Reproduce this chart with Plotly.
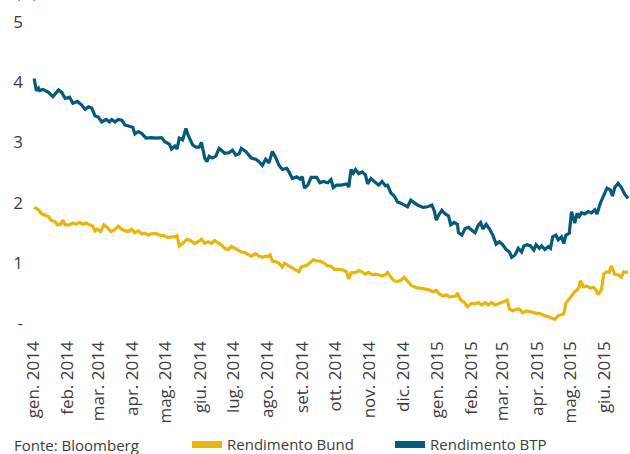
import plotly.graph_objects as go

# ---------------- data ----------------
month_ticks = ["2014-01-01", "2014-02-01", "2014-03-01", "2014-04-01", "2014-05-01", "2014-06-01",
               "2014-07-01", "2014-08-01", "2014-09-01", "2014-10-01", "2014-11-01", "2014-12-01",
               "2015-01-01", "2015-02-01", "2015-03-01", "2015-04-01", "2015-05-01", "2015-06-01"]
month_labels = ["gen. 2014", "feb. 2014", "mar. 2014", "apr. 2014", "mag. 2014", "giu. 2014",
                "lug. 2014", "ago. 2014", "set. 2014", "ott. 2014", "nov. 2014", "dic. 2014",
                "gen. 2015", "feb. 2015", "mar. 2015", "apr. 2015", "mag. 2015", "giu. 2015"]

y_tickvals = [0, 1, 2, 3, 4, 5]
y_ticktext = ["-", "1", "2", "3", "4", "5"]

btp_dates = [
    "2014-01-02", "2014-01-04", "2014-01-06", "2014-01-07", "2014-01-10", "2014-01-15", "2014-01-19", "2014-01-24", "2014-01-27", "2014-01-30",
    "2014-02-03", "2014-02-06", "2014-02-10", "2014-02-14", "2014-02-17", "2014-02-20", "2014-02-23", "2014-02-26",
    "2014-03-01", "2014-03-04", "2014-03-08", "2014-03-11", "2014-03-13", "2014-03-16", "2014-03-19", "2014-03-22", "2014-03-25", "2014-03-29",
    "2014-04-01", "2014-04-03", "2014-04-06", "2014-04-09", "2014-04-13", "2014-04-18", "2014-04-22", "2014-04-27", "2014-04-30",
    "2014-05-04", "2014-05-06", "2014-05-09", "2014-05-11", "2014-05-13", "2014-05-16", "2014-05-19", "2014-05-21", "2014-05-25", "2014-05-28", "2014-05-31",
    "2014-06-02", "2014-06-05", "2014-06-07", "2014-06-09", "2014-06-12", "2014-06-15", "2014-06-18", "2014-06-23", "2014-06-27", "2014-06-30",
    "2014-07-03", "2014-07-06", "2014-07-08", "2014-07-12", "2014-07-17", "2014-07-21", "2014-07-24", "2014-07-27", "2014-07-30",
    "2014-08-02", "2014-08-05", "2014-08-08", "2014-08-11", "2014-08-14", "2014-08-18", "2014-08-20", "2014-08-23", "2014-08-27", "2014-08-30",
    "2014-09-01", "2014-09-03", "2014-09-06", "2014-09-09", "2014-09-14", "2014-09-17", "2014-09-20", "2014-09-24", "2014-09-27", "2014-09-29",
    "2014-10-02", "2014-10-06", "2014-10-11", "2014-10-13", "2014-10-15", "2014-10-17", "2014-10-19", "2014-10-22", "2014-10-25", "2014-10-28", "2014-10-30",
    "2014-11-02", "2014-11-05", "2014-11-09", "2014-11-12", "2014-11-15", "2014-11-17", "2014-11-20", "2014-11-23", "2014-11-26", "2014-11-29",
    "2014-12-02", "2014-12-05", "2014-12-08", "2014-12-11", "2014-12-14", "2014-12-19", "2014-12-23", "2014-12-27", "2014-12-29", "2014-12-31",
    "2015-01-02", "2015-01-05", "2015-01-08", "2015-01-11", "2015-01-13", "2015-01-16", "2015-01-19", "2015-01-20", "2015-01-23", "2015-01-26", "2015-01-29",
    "2015-02-01", "2015-02-04", "2015-02-07", "2015-02-09", "2015-02-11", "2015-02-14", "2015-02-17", "2015-02-20", "2015-02-23", "2015-02-26",
    "2015-03-01", "2015-03-04", "2015-03-07", "2015-03-09", "2015-03-12", "2015-03-15", "2015-03-18", "2015-03-20", "2015-03-23", "2015-03-26", "2015-03-29", "2015-03-31",
    "2015-04-03", "2015-04-05", "2015-04-08", "2015-04-11", "2015-04-13", "2015-04-15", "2015-04-18", "2015-04-20", "2015-04-23", "2015-04-25", "2015-04-27", "2015-04-30",
    "2015-05-02", "2015-05-05", "2015-05-07", "2015-05-09", "2015-05-11", "2015-05-14", "2015-05-17", "2015-05-20", "2015-05-23", "2015-05-25", "2015-05-28", "2015-05-31",
    "2015-06-03", "2015-06-06", "2015-06-08", "2015-06-10", "2015-06-13", "2015-06-16", "2015-06-19", "2015-06-22",
]
btp_values = [
    4.06, 3.86, 3.90, 3.86, 3.88, 3.83, 3.76, 3.87, 3.83, 3.73,
    3.75, 3.65, 3.68, 3.62, 3.55, 3.59, 3.57, 3.44,
    3.42, 3.34, 3.38, 3.34, 3.38, 3.34, 3.38, 3.37, 3.29, 3.26,
    3.25, 3.14, 3.18, 3.15, 3.07, 3.08, 3.07, 3.08, 3.01,
    2.97, 2.89, 2.94, 2.89, 3.07, 3.04, 3.23, 3.12, 2.96, 2.92, 2.92,
    3.00, 2.74, 2.68, 2.77, 2.74, 2.77, 2.90, 2.82, 2.83, 2.87,
    2.79, 2.81, 2.90, 2.85, 2.74, 2.72, 2.68, 2.62, 2.72,
    2.66, 2.85, 2.75, 2.62, 2.55, 2.57, 2.51, 2.40, 2.43, 2.39,
    2.43, 2.24, 2.29, 2.42, 2.42, 2.33, 2.35, 2.33, 2.38, 2.25,
    2.29, 2.29, 2.31, 2.26, 2.55, 2.49, 2.55, 2.48, 2.51, 2.46, 2.31,
    2.40, 2.35, 2.29, 2.35, 2.28, 2.29, 2.16, 2.11, 2.01, 1.99,
    1.96, 1.93, 2.04, 2.00, 1.96, 1.92, 1.93, 1.96, 1.87, 1.71,
    1.79, 1.87, 1.81, 1.78, 1.63, 1.67, 1.64, 1.50, 1.46, 1.57, 1.59,
    1.54, 1.50, 1.63, 1.67, 1.56, 1.64, 1.56, 1.46, 1.31, 1.35,
    1.30, 1.22, 1.18, 1.09, 1.13, 1.24, 1.18, 1.28, 1.30, 1.28, 1.21, 1.30,
    1.24, 1.28, 1.22, 1.27, 1.24, 1.43, 1.46, 1.38, 1.43, 1.32, 1.46, 1.49,
    1.85, 1.66, 1.82, 1.77, 1.83, 1.81, 1.85, 1.83, 1.88, 1.81, 1.99, 2.13,
    2.24, 2.21, 2.11, 2.25, 2.32, 2.25, 2.14, 2.07,
]

bund_dates = [
    "2014-01-02", "2014-01-06", "2014-01-09", "2014-01-12", "2014-01-15", "2014-01-17", "2014-01-21", "2014-01-23", "2014-01-26", "2014-01-28", "2014-01-30",
    "2014-02-03", "2014-02-06", "2014-02-09", "2014-02-12", "2014-02-15", "2014-02-18", "2014-02-21", "2014-02-24", "2014-02-26", "2014-02-28",
    "2014-03-03", "2014-03-06", "2014-03-09", "2014-03-12", "2014-03-15", "2014-03-19", "2014-03-22", "2014-03-25", "2014-03-28", "2014-03-31",
    "2014-04-03", "2014-04-06", "2014-04-09", "2014-04-12", "2014-04-15", "2014-04-18", "2014-04-22", "2014-04-25", "2014-04-29",
    "2014-05-03", "2014-05-06", "2014-05-09", "2014-05-11", "2014-05-13", "2014-05-16", "2014-05-20", "2014-05-23", "2014-05-27", "2014-05-30",
    "2014-06-02", "2014-06-05", "2014-06-08", "2014-06-11", "2014-06-14", "2014-06-17", "2014-06-20", "2014-06-23", "2014-06-26", "2014-06-29",
    "2014-07-02", "2014-07-05", "2014-07-08", "2014-07-11", "2014-07-15", "2014-07-17", "2014-07-21", "2014-07-24", "2014-07-27", "2014-07-30",
    "2014-08-01", "2014-08-03", "2014-08-05", "2014-08-08", "2014-08-11", "2014-08-14", "2014-08-16", "2014-08-20", "2014-08-23", "2014-08-26", "2014-08-29", "2014-08-31",
    "2014-09-02", "2014-09-05", "2014-09-08", "2014-09-11", "2014-09-14", "2014-09-17", "2014-09-21", "2014-09-24", "2014-09-27", "2014-09-30",
    "2014-10-04", "2014-10-08", "2014-10-11", "2014-10-13", "2014-10-15", "2014-10-19", "2014-10-22", "2014-10-25", "2014-10-28", "2014-10-31",
    "2014-11-03", "2014-11-06", "2014-11-09", "2014-11-12", "2014-11-15", "2014-11-17", "2014-11-20", "2014-11-23", "2014-11-26", "2014-11-29",
    "2014-12-02", "2014-12-05", "2014-12-08", "2014-12-11", "2014-12-14", "2014-12-17", "2014-12-20", "2014-12-24", "2014-12-28", "2014-12-31",
    "2015-01-03", "2015-01-06", "2015-01-09", "2015-01-12", "2015-01-15", "2015-01-18", "2015-01-19", "2015-01-22", "2015-01-25", "2015-01-28",
    "2015-02-01", "2015-02-04", "2015-02-07", "2015-02-10", "2015-02-13", "2015-02-16", "2015-02-19", "2015-02-22", "2015-02-25", "2015-02-28",
    "2015-03-03", "2015-03-05", "2015-03-07", "2015-03-10", "2015-03-13", "2015-03-16", "2015-03-19", "2015-03-22", "2015-03-25", "2015-03-28", "2015-03-31",
    "2015-04-03", "2015-04-06", "2015-04-09", "2015-04-12", "2015-04-15", "2015-04-17", "2015-04-20", "2015-04-23", "2015-04-25", "2015-04-27", "2015-04-29",
    "2015-05-02", "2015-05-05", "2015-05-07", "2015-05-09", "2015-05-10", "2015-05-13", "2015-05-16", "2015-05-19", "2015-05-22", "2015-05-24", "2015-05-26", "2015-05-29", "2015-05-31",
    "2015-06-03", "2015-06-05", "2015-06-07", "2015-06-10", "2015-06-13", "2015-06-16", "2015-06-18", "2015-06-20", "2015-06-22",
]
bund_values = [
    1.92, 1.88, 1.81, 1.79, 1.77, 1.71, 1.68, 1.63, 1.64, 1.71, 1.63,
    1.63, 1.66, 1.64, 1.67, 1.64, 1.66, 1.63, 1.61, 1.53, 1.56,
    1.52, 1.63, 1.59, 1.52, 1.54, 1.61, 1.56, 1.53, 1.52, 1.56,
    1.50, 1.53, 1.48, 1.49, 1.46, 1.48, 1.49, 1.46, 1.45,
    1.42, 1.43, 1.43, 1.45, 1.28, 1.32, 1.39, 1.37, 1.32, 1.35,
    1.39, 1.32, 1.35, 1.32, 1.37, 1.33, 1.30, 1.24, 1.22, 1.27,
    1.24, 1.22, 1.18, 1.17, 1.13, 1.11, 1.15, 1.11, 1.09, 1.11,
    1.10, 1.13, 1.03, 1.02, 0.99, 0.93, 0.99, 0.95, 0.91, 0.88, 0.85, 0.93,
    0.94, 0.96, 1.00, 1.05, 1.03, 1.03, 0.99, 0.95, 0.94, 0.89,
    0.89, 0.88, 0.85, 0.73, 0.83, 0.84, 0.87, 0.85, 0.81, 0.84,
    0.80, 0.81, 0.80, 0.78, 0.80, 0.84, 0.76, 0.70, 0.69, 0.71,
    0.76, 0.70, 0.63, 0.60, 0.58, 0.58, 0.57, 0.55, 0.52, 0.54,
    0.48, 0.45, 0.47, 0.43, 0.44, 0.45, 0.50, 0.38, 0.35, 0.27,
    0.33, 0.32, 0.34, 0.30, 0.34, 0.30, 0.34, 0.30, 0.32, 0.34,
    0.37, 0.38, 0.23, 0.20, 0.23, 0.23, 0.17, 0.20, 0.19, 0.17, 0.16,
    0.16, 0.13, 0.11, 0.10, 0.08, 0.06, 0.12, 0.13, 0.15, 0.33, 0.38,
    0.45, 0.52, 0.55, 0.60, 0.70, 0.60, 0.61, 0.58, 0.59, 0.55, 0.47, 0.55, 0.81,
    0.85, 0.84, 0.95, 0.81, 0.80, 0.76, 0.85, 0.84, 0.85,
]

series_names = ["Rendimento Bund", "Rendimento BTP"]
source_text = "Fonte: Bloomberg"
unit_text = "(%)"

# ---------------- style ----------------
BUND_COLOR = "#e8b50c"
BTP_COLOR = "#045a7a"
TEXT_COLOR = "#3c3c3c"
FONT = "Open Sans"

fig = go.Figure()
fig.add_trace(go.Scatter(x=bund_dates, y=bund_values, mode="lines", name=series_names[0],
                         line=dict(color=BUND_COLOR, width=3.2), showlegend=False, hoverinfo="skip"))
fig.add_trace(go.Scatter(x=btp_dates, y=btp_values, mode="lines", name=series_names[1],
                         line=dict(color=BTP_COLOR, width=3.2), showlegend=False, hoverinfo="skip"))
# legend entries (thick swatches)
fig.add_trace(go.Scatter(x=[None], y=[None], mode="lines", name=series_names[0],
                         line=dict(color=BUND_COLOR, width=7), legend="legend"))
fig.add_trace(go.Scatter(x=[None], y=[None], mode="lines", name=series_names[1],
                         line=dict(color=BTP_COLOR, width=7), legend="legend2"))

fig.update_layout(
    width=630, height=454,
    margin=dict(l=30, r=0, t=0, b=125, autoexpand=False),
    paper_bgcolor="white", plot_bgcolor="white",
    font=dict(family=FONT, color=TEXT_COLOR, size=15),
    legend=dict(orientation="h", x=(187 - 30) / 600, xanchor="left", y=-0.352, yanchor="middle",
                font=dict(size=15, color=TEXT_COLOR), itemwidth=30, bgcolor="rgba(0,0,0,0)"),
    legend2=dict(orientation="h", x=(390 - 30) / 600, xanchor="left", y=-0.352, yanchor="middle",
                 font=dict(size=15, color=TEXT_COLOR), itemwidth=30, bgcolor="rgba(0,0,0,0)"),
)

fig.update_xaxes(
    type="date", automargin=False,
    range=["2013-12-29 07:00", "2015-06-23 19:00"],
    tickmode="array", tickvals=month_ticks, ticktext=month_labels,
    tickangle=-90, tickfont=dict(size=17, color=TEXT_COLOR, family=FONT),
    showgrid=False, zeroline=False, showline=False, ticks="",
    ticklabelstandoff=8,
)
fig.update_yaxes(
    automargin=False,
    range=[-0.0997, 5.365],
    tickmode="array", tickvals=y_tickvals, ticktext=y_ticktext,
    tickfont=dict(size=17, color=TEXT_COLOR, family=FONT),
    showgrid=False, zeroline=False, showline=False, ticks="",
    ticklabelstandoff=6,
)

fig.add_annotation(text=source_text, xref="paper", yref="paper", x=(12 - 30) / 600, y=-0.352,
                   xanchor="left", yanchor="middle", showarrow=False,
                   font=dict(size=15, color=TEXT_COLOR, family=FONT))
fig.add_annotation(text=unit_text, xref="paper", yref="paper", x=(14 - 30) / 600, y=1.0,
                   xanchor="left", yanchor="bottom", yshift=-4, showarrow=False,
                   font=dict(size=15, color="#2a7a9a", family=FONT))

fig.write_html("out.html", config={"displayModeBar": False},
               post_script="document.body.style.margin='0';")
